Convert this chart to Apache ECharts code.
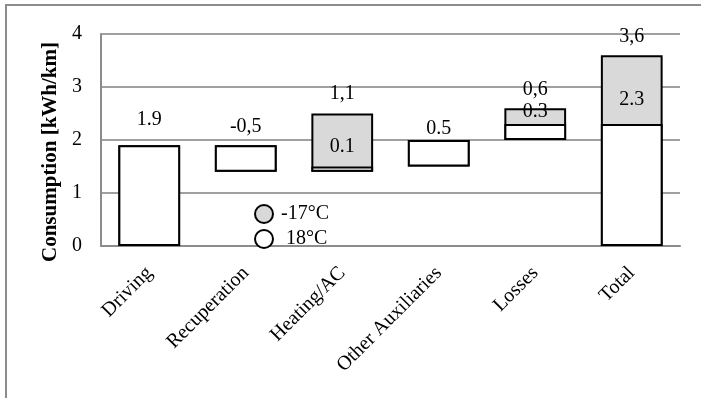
<!DOCTYPE html>
<html>
<head>
<meta charset="utf-8">
<script src="https://cdn.jsdelivr.net/npm/echarts@6/dist/echarts.min.js"></script>
<style>html,body{margin:0;padding:0;background:#fff}#c{width:701px;height:398px}</style>
</head>
<body>
<div id="c"></div>
<script>
// ---- data ----
const categories = ['Driving', 'Recuperation', 'Heating/AC', 'Other Auxiliaries', 'Losses', 'Total'];
const values18 = [1.9, -0.5, 0.1, 0.5, 0.3, 2.3];     // 18°C scenario
const valuesM17 = [1.9, -0.5, 1.1, 0.5, 0.6, 3.6];    // -17°C scenario
const labels18 = ['1.9', '', '0.1', '0.5', '0.3', '2.3'];
const labelsM17 = ['', '-0,5', '1,1', '', '0,6', '3,6'];
const yTicks = [0, 1, 2, 3, 4];

// ---- waterfall bases (from the 18°C running sum) ----
const n = categories.length;
const base = [];
let run = 0;
for (let i = 0; i < n; i++) {
  if (i === n - 1) { base.push(0); break; }
  const v = values18[i];
  if (v >= 0) { base.push(run); run += v; }
  else { run += v; base.push(run); }
}
const abs = a => a.map(v => Math.abs(v));

// label lifts (styling)
const liftWhite = [16, 0, 10, 1, 2, 14];
const liftGrey = [8, 9, 10, 8, 8, 8];

const FONT = 'Liberation Serif';
const txt = {fontFamily: FONT, fontSize: 20, color: '#000', lineHeight: 20};

const chart = echarts.init(document.getElementById('c'), null, {renderer: 'canvas'});
chart.setOption({
  animation: false,
  backgroundColor: '#fff',
  graphic: [{type: 'rect', shape: {x: 6, y: 5, width: 900, height: 600},
    style: {fill: 'none', stroke: '#8c8c8c', lineWidth: 2}, silent: true}],
  grid: {left: 101, right: 21, top: 34, bottom: 152},
  legend: {
    orient: 'vertical', left: 249, top: 199, itemWidth: 18, itemHeight: 18, itemGap: 5,
    icon: 'circle', data: ['-17°C', '18°C'],
    formatter: name => name === '18°C' ? ' 18°C' : name,
    textStyle: {fontFamily: FONT, fontSize: 20, color: '#000', padding: [0, 0, 0, 3]}
  },
  xAxis: {
    type: 'category', data: categories,
    axisLine: {lineStyle: {color: '#8c8c8c', width: 2}},
    axisTick: {show: false},
    axisLabel: {rotate: 45, interval: 0, margin: 24, fontFamily: FONT, fontSize: 20, color: '#000'}
  },
  yAxis: {
    type: 'value', min: yTicks[0], max: yTicks[yTicks.length - 1], interval: 1,
    name: 'Consumption [kWh/km]', nameLocation: 'middle', nameGap: 34,
    nameTextStyle: {fontFamily: FONT, fontSize: 21, fontWeight: 'bold', color: '#000', padding: [0, 24, 0, 0]},
    axisLine: {show: true, lineStyle: {color: '#8c8c8c', width: 2}},
    axisTick: {show: false},
    axisLabel: {margin: 19, fontFamily: FONT, fontSize: 20, color: '#000'},
    splitLine: {lineStyle: {color: '#a0a0a0', width: 2}}
  },
  series: [
    {type: 'bar', stack: 'g', silent: true, data: base,
     itemStyle: {color: 'transparent'}, barWidth: '64%', barGap: '-100%'},
    {type: 'bar', stack: 'g', name: '-17°C', data: abs(valuesM17).map((v, i) => ({
        value: v, label: {distance: liftGrey[i]}})),
     barWidth: '64%', barGap: '-100%',
     itemStyle: {color: '#d9d9d9', borderColor: '#000', borderWidth: 2},
     label: {show: true, position: 'top', formatter: p => labelsM17[p.dataIndex], ...txt}},
    {type: 'bar', stack: 'w', silent: true, data: base,
     itemStyle: {color: 'transparent'}, barWidth: '64%', barGap: '-100%'},
    {type: 'bar', stack: 'w', name: '18°C', data: abs(values18).map((v, i) => ({
        value: v, label: {distance: liftWhite[i]}})),
     barWidth: '64%', barGap: '-100%',
     itemStyle: {color: '#ffffff', borderColor: '#000', borderWidth: 2},
     label: {show: true, position: 'top', formatter: p => labels18[p.dataIndex], ...txt}}
  ]
});
</script>
</body>
</html>
